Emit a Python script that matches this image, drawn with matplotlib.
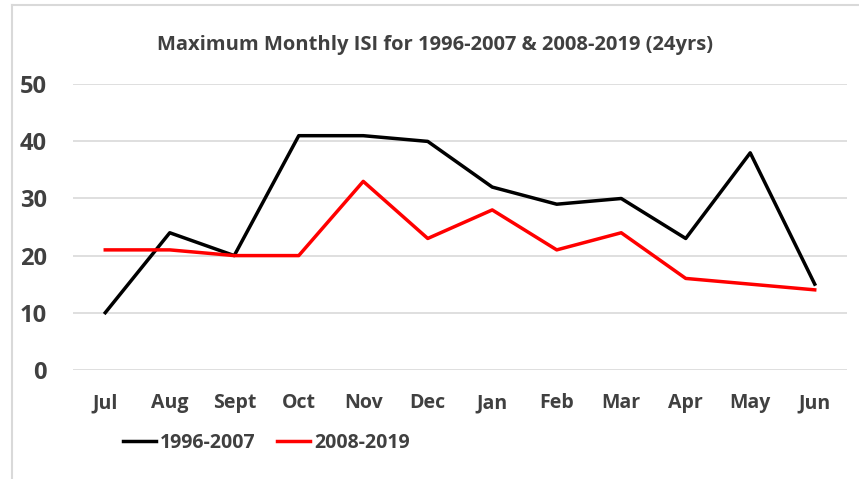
import matplotlib
matplotlib.use('Agg')
import matplotlib.pyplot as plt
from matplotlib.lines import Line2D

# month labels and the two series
months = ['Jul', 'Aug', 'Sept', 'Oct', 'Nov', 'Dec', 'Jan', 'Feb', 'Mar', 'Apr', 'May', 'Jun']
isi_1996_2007 = [10, 24, 20, 41, 41, 40, 32, 29, 30, 23, 38, 15]
isi_2008_2019 = [21, 21, 20, 20, 33, 23, 28, 21, 24, 16, 15, 14]
y_ticks = [0, 10, 20, 30, 40, 50]

plt.rcParams['font.family'] = ['Open Sans', 'DejaVu Sans']
text_color = '#404040'

fig = plt.figure(figsize=(8.59, 4.79), dpi=100)
ax = fig.add_axes([0.085, 0.228, 0.901, 0.596])

x = list(range(len(months)))
ax.plot(x, isi_1996_2007, color='black', linewidth=2.5, label='1996-2007')
ax.plot(x, isi_2008_2019, color='#ff0000', linewidth=2.5, label='2008-2019')

ax.set_xlim(-0.5, len(months) - 0.5)
ax.set_ylim(0, 50)
ax.set_yticks(y_ticks)
ax.set_xticks(x)
ax.set_xticklabels(months)
ax.grid(axis='y', color='#d9d9d9', linewidth=1.2)
ax.set_axisbelow(True)
for side in ax.spines.values():
    side.set_visible(False)
ax.tick_params(length=0)
ax.tick_params(axis='y', labelsize=17, labelcolor=text_color, pad=19)
ax.tick_params(axis='x', labelsize=14, labelcolor=text_color, pad=17)
for lbl in ax.get_xticklabels() + ax.get_yticklabels():
    lbl.set_fontweight('bold')

fig.text(0.506, 0.906, 'Maximum Monthly ISI for 1996-2007 & 2008-2019 (24yrs)',
         ha='center', va='center', fontsize=14.5, fontweight='bold', color=text_color)

leg = ax.legend(loc='center', bbox_to_anchor=(0.25, -0.255), ncol=2, frameon=False,
                prop={'size': 14, 'weight': 'bold'}, handlelength=1.7,
                handletextpad=0.2, columnspacing=1.1)
for t in leg.get_texts():
    t.set_color(text_color)

# light chart-area border (left and top edges visible in the original)
fig.add_artist(Line2D([12 / 859, 12 / 859], [0, 1 - 5 / 479], transform=fig.transFigure,
                      color='#d9d9d9', linewidth=1.5))
fig.add_artist(Line2D([12 / 859, 1], [1 - 5 / 479, 1 - 5 / 479], transform=fig.transFigure,
                      color='#d9d9d9', linewidth=1.5))

plt.savefig('out.png', dpi=100)
plt.close()
